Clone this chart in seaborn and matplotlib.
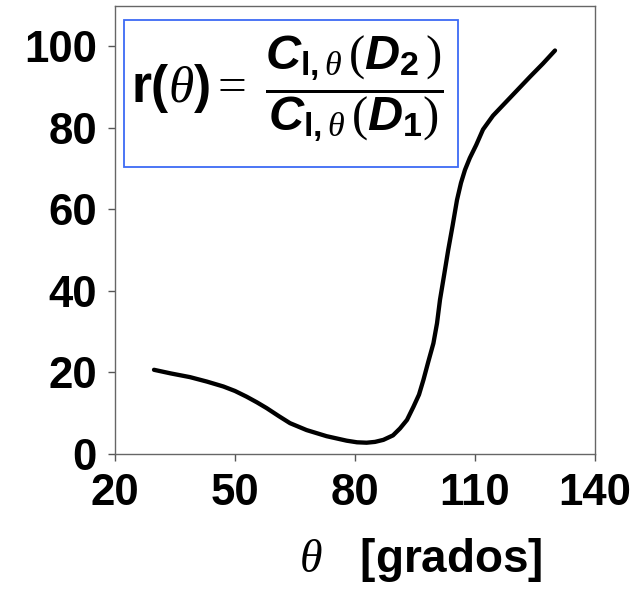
import matplotlib
matplotlib.use("Agg")
import matplotlib.pyplot as plt
import seaborn as sns
import pandas as pd
from matplotlib.patches import Rectangle

# ---- data ----
theta = [29.75, 34.0, 38.75, 43.0, 47.1, 50.0, 52.9, 55.5, 57.9, 61.0,
         63.75, 67.9, 72.9, 77.9, 80.5, 82.9, 85.0, 87.1, 89.5, 91.25,
         93.0, 94.6, 96.0, 97.1, 98.3, 99.6, 100.5, 101.25, 102.3, 103.3,
         104.4, 105.5, 106.5, 107.5, 108.7, 110.3, 112.0, 114.5, 117.6,
         120.7, 123.8, 127.0, 130.0]
ratio = [20.6, 19.7, 18.8, 17.7, 16.5, 15.4, 14.0, 12.6, 11.2, 9.2,
         7.5, 5.8, 4.3, 3.2, 2.8, 2.7, 2.9, 3.4, 4.5, 6.2,
         8.3, 11.5, 14.5, 18.1, 22.5, 27.1, 32.0, 37.8, 44.0, 50.0,
         56.0, 62.3, 66.5, 69.7, 72.6, 75.8, 79.6, 83.0, 86.2,
         89.4, 92.6, 95.8, 99.0]
x_ticks = [20, 50, 80, 110, 140]
y_ticks = [0, 20, 40, 60, 80, 100]
x_label = r"$\theta$   [grados]"
formula_lhs = r"$\mathbf{r(}\theta\mathbf{)} =$"
formula_frac = (r"$\dfrac{\mathbfit{C}_{\mathbf{l,}\theta}\,(\mathbfit{D}_{\mathbf{2}}\,)}"
                r"{\mathbfit{C}_{\mathbf{l,}\theta}\,(\mathbfit{D}_{\mathbf{1}})}$")

df = pd.DataFrame({"theta": theta, "r": ratio})

sns.set_theme(style="white")
plt.rcParams["font.family"] = ["Liberation Sans", "DejaVu Sans"]
plt.rcParams["font.weight"] = "normal"
plt.rcParams["text.color"] = "black"
plt.rcParams["axes.labelcolor"] = "black"
plt.rcParams["mathtext.fontset"] = "custom"
plt.rcParams["mathtext.rm"] = "Liberation Serif:normal"
plt.rcParams["mathtext.it"] = "Liberation Serif:italic:normal"
plt.rcParams["mathtext.bf"] = "Liberation Sans:bold"
plt.rcParams["mathtext.bfit"] = "Liberation Sans:italic:bold"

fig = plt.figure(figsize=(6.4, 5.91), dpi=100)
ax_bottom = 1 - 453.7 / 591
ax_height = (453.7 - 5.7) / 591
ax = fig.add_axes([115 / 640, ax_bottom, 480 / 640, ax_height])

sns.lineplot(data=df, x="theta", y="r", ax=ax, color="black", linewidth=3.1,
             solid_capstyle="round", sort=False)

ax.set_xlim(20, 140)
ax.set_ylim(0, 110)
ax.set_xticks(x_ticks)
ax.set_yticks(y_ticks)
ax.set_xticklabels([str(v) for v in x_ticks])
ax.set_yticklabels([str(v) for v in y_ticks])
ax.tick_params(axis="both", which="major", labelsize=31.5, length=5, width=1,
               color="#555555", labelcolor="black", direction="out",
               bottom=True, left=True)
ax.tick_params(axis="x", pad=9)
ax.tick_params(axis="y", pad=8)
for lab in ax.get_xticklabels() + ax.get_yticklabels():
    lab.set_fontweight("bold")
for s in ax.spines.values():
    s.set_color("#666666")
    s.set_linewidth(1)
ax.set_ylabel("")
ax.set_xlabel(x_label, fontsize=33, fontweight="bold", ha="center", va="baseline")
ax.xaxis.set_label_coords((421 - 115) / 480, (19 / 591 - ax_bottom) / ax_height)

fig.patches.append(Rectangle((124 / 640, 1 - 167 / 591), 334 / 640, 147 / 591,
                             transform=fig.transFigure, fill=False,
                             edgecolor="#3d6af5", linewidth=1.3))
fig.text(131 / 640, 1 - 102 / 591, formula_lhs, fontsize=37, ha="left", va="baseline")
fig.text(265 / 640, 1 - 89 / 591, formula_frac, fontsize=35, ha="left", va="center")

fig.savefig("out.png", dpi=100)
